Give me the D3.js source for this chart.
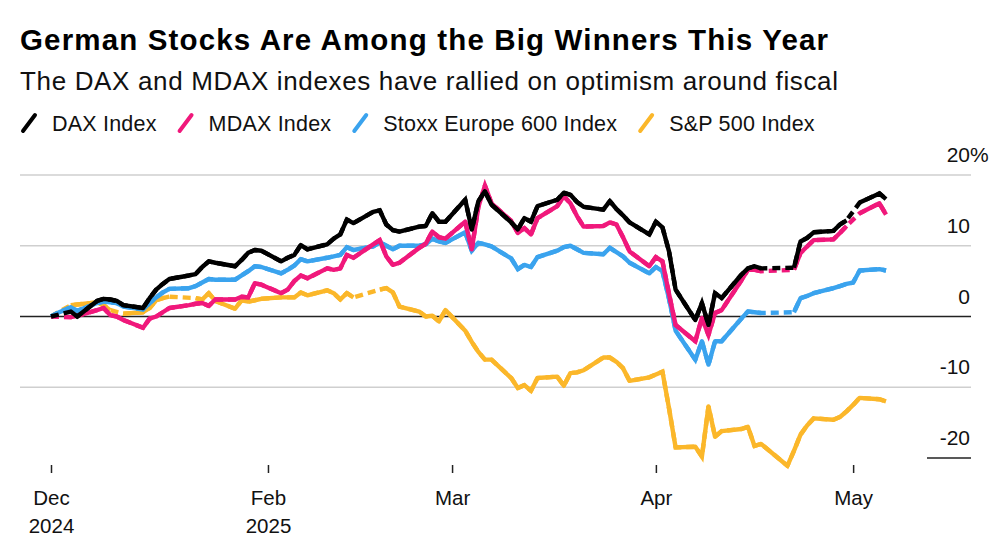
<!DOCTYPE html>
<html>
<head>
<meta charset="utf-8">
<script src="https://cdn.jsdelivr.net/npm/d3@7"></script>
<style>
  html, body { margin: 0; padding: 0; background: #fff; }
  svg { display: block; font-family: "Liberation Sans", Arial, Helvetica, sans-serif; }
</style>
</head>
<body>
<svg id="chart" width="1000" height="545"></svg>
<script>
// ── DATA ─────────────────────────────────────────────────────
// Trading calendar: weekdays from Dec 30 2024 to May 6 2025,
// minus days on which none of the four markets traded.
const closedAll = ['2025-01-01', '2025-04-18'];
const fmtDay = d3.timeFormat('%Y-%m-%d');
const dates = d3.timeDay.range(new Date(2024, 11, 30), new Date(2025, 4, 7))
  .filter(d => d.getDay() !== 0 && d.getDay() !== 6 && !closedAll.includes(fmtDay(d)));

// % change since Dec 30 2024 (null = that market was closed)
const daxPct = [
  0, null,                                                   // Dec 30-31
  0.7, 0.0, 2.2, 2.5, 2.4, 2.2, 1.6, 1.2, 2.6, 3.8, 4.6, 5.3,
  5.8, 6.0, 7.0, 7.8, 7.6, 7.1, 8.0, 9.0, 9.4, 9.3,          // Jan
  7.8, 8.3, 8.7, 10.1, 9.5, 10.2, 11.0, 11.6, 13.7, 13.2,
  14.8, 15.0, 13.0, 12.2, 12.0, 12.7, 12.8, 14.6, 13.4, 13.4, // Feb
  16.5, 12.3, 16.3, 17.7, 15.8, 13.3, 12.3, 13.9, 13.4, 15.6,
  16.5, 17.5, 17.2, 16.2, 15.5, 15.1, 16.3, 15.2, 14.3, 13.3, 11.6, // Mar
  13.4, 12.6, 9.2, 3.8, -0.5, 1.9, -1.2, 3.3, 2.6, 5.9, 6.8,
  7.1, 6.8, null, 6.9, 10.6, 11.1, 11.9, 12.1, 13.0, 13.6,    // Apr
  null, 16.1, 17.4, 16.6                                      // May
];
const mdaxPct = [
  0, null,
  -0.1, 0.1, 0.9, 1.2, 0.2, 0.0, -0.5, -1.6, -0.3, 0.0, 0.6, 1.2,
  1.6, 1.8, 1.9, 1.5, 2.4, 2.4, 2.8, 2.7, 4.7, 4.5,
  3.3, 3.8, 5.0, 5.8, 5.4, 6.8, 6.6, 6.8, 8.7, 8.3,
  10.2, 10.8, 8.5, 7.3, 7.6, 9.7, 10.3, 12.0, 11.2, 11.0,
  13.4, 9.5, 15.5, 18.5, 16.0, 13.5, 11.8, 12.5, 11.6, 13.9,
  15.6, 17.0, 16.0, 14.2, 12.7, 12.8, 13.3, 13.0, 11.2, 9.2, 7.1,
  8.4, 7.8, 3.2, -1.2, -3.5, -0.2, -2.6, 0.5, 0.9, 5.1, 6.6,
  6.6, 6.4, null, 6.6, 9.0, 9.9, 10.8, 10.9, 11.8, 12.8,
  null, 14.6, 16.0, 14.4
];
const stoxxPct = [
  0, 0.5,
  1.3, 0.8, 1.9, 2.1, 2.0, 1.9, 1.4, 1.0, 1.9, 2.7, 3.4, 3.9,
  4.0, 4.3, 4.8, 5.3, 5.2, 5.2, 5.8, 6.4, 7.1, 7.0,
  6.1, 6.6, 7.2, 8.1, 7.8, 8.3, 8.5, 8.7, 9.8, 9.4,
  9.9, 10.5, 10.0, 9.5, 10.0, 10.0, 10.2, 11.0, 10.6, 10.4,
  11.9, 9.3, 10.4, 10.2, 9.9, 8.2, 6.7, 7.3, 7.0, 8.4,
  9.3, 9.8, 10.0, 9.5, 9.0, 8.8, 9.7, 9.1, 8.5, 7.6, 6.1,
  7.0, 6.4, 2.5, -2.0, -6.1, -3.5, -6.8, -3.5, -3.5, -0.3, 0.7,
  0.6, 0.5, null, 0.6, 2.6, 2.9, 3.3, 4.0, 4.3, 4.6,
  4.8, 6.5, 6.7, 6.5
];
const spxPct = [
  0, null,
  1.6, 1.7, 2.0, 1.6, 0.9, null, 0.4, 0.6, 1.2, 2.3, 2.6, 2.8,
  null, 2.6, 2.4, 3.3, 2.2, 1.1, 2.3, 2.1, 2.3, 2.5,
  2.7, 2.7, 2.7, 3.4, 3.0, 3.7, 3.3, 2.4, 3.3, 2.7,
  null, 3.8, 4.0, 3.4, 1.4, 0.7, 0.0, 0.1, -0.7, 0.9,
  -2.0, -3.6, -5.0, -6.1, -6.1, -8.7, -10.1, -9.7, -10.5, -8.7,
  -8.5, -9.8, -8.0, -7.9, -7.6, -5.8, -5.8, -6.4, -7.3, -9.1, -8.6,
  -8.2, -7.8, -13.0, -18.5, -18.4, -19.8, -12.7, -17.0, -16.2, -15.9, -15.6,
  -18.3, -18.0, -21.1, -19.0, -16.7, -15.4, -14.4, -14.6, -14.2, -13.4,
  -12.5, -11.5, -11.7, -12.0
];

const seriesNames  = ['DAX Index', 'MDAX Index', 'Stoxx Europe 600 Index', 'S&P 500 Index'];
const seriesValues = [daxPct, mdaxPct, stoxxPct, spxPct];
const seriesColors = ['#000000', '#f0187b', '#3aa3ee', '#fbb72a'];

const yTicks  = [20, 10, 0, -10, -20];
const xTicks  = [new Date(2024, 11, 30), new Date(2025, 1, 1), new Date(2025, 2, 1),
                 new Date(2025, 3, 1), new Date(2025, 4, 1)];
const xMonths = ['Dec', 'Feb', 'Mar', 'Apr', 'May'];
const xYears  = ['2024', '2025', '', '', ''];

const TITLE    = 'German Stocks Are Among the Big Winners This Year';
const SUBTITLE = 'The DAX and MDAX indexes have rallied on optimism around fiscal';

// ── SETUP ────────────────────────────────────────────────────
const svg = d3.select('#chart');
svg.append('rect').attr('width', 1000).attr('height', 545).attr('fill', '#fff');

const LEFT = 20, RIGHT = 971;
const LINE_W = 4.4;
const x = d3.scaleTime().domain([dates[0], dates[dates.length - 1]]).range([51, 886]);
const y = d3.scaleLinear().domain([-20, 20]).range([458, 175]);

// ── HEADER ───────────────────────────────────────────────────
svg.append('text')
  .attr('x', LEFT).attr('y', 50)
  .attr('font-size', 29.5).attr('font-weight', 700).attr('fill', '#000')
  .attr('textLength', 808).attr('lengthAdjust', 'spacing')
  .text(TITLE);

svg.append('text')
  .attr('x', LEFT).attr('y', 90)
  .attr('font-size', 26).attr('fill', '#111')
  .attr('textLength', 818).attr('lengthAdjust', 'spacing')
  .text(SUBTITLE);

// legend: slanted swatch + label, flowed left to right
const legend = svg.append('g').attr('class', 'legend');
let lx = LEFT;
seriesNames.forEach((name, i) => {
  legend.append('line')
    .attr('x1', lx + 3).attr('y1', 131).attr('x2', lx + 15).attr('y2', 115)
    .attr('stroke', seriesColors[i]).attr('stroke-width', 4).attr('stroke-linecap', 'round');
  const t = legend.append('text')
    .attr('x', lx + 32).attr('y', 131)
    .attr('font-size', 21.5).attr('letter-spacing', 0.2).attr('fill', '#111')
    .text(name);
  lx = lx + 32 + t.node().getComputedTextLength() + 20;
});

// ── GRID + Y LABELS ──────────────────────────────────────────
const grid = svg.append('g').attr('class', 'grid');
yTicks.forEach(v => {
  const isZero = v === 0;
  const isBottom = v === d3.min(yTicks);
  grid.append('line')
    .attr('x1', isBottom ? 927 : LEFT).attr('x2', RIGHT)
    .attr('y1', y(v)).attr('y2', y(v))
    .attr('stroke', isZero || isBottom ? '#222' : '#cfcfcf')
    .attr('stroke-width', isZero || isBottom ? 1.6 : 1.5);
  grid.append('text')
    .attr('x', 970).attr('y', y(v) - 13)
    .attr('text-anchor', 'end').attr('font-size', 21).attr('fill', '#111')
    .text(v);
  if (v === d3.max(yTicks)) {
    grid.append('text')
      .attr('x', 970).attr('y', y(v) - 13)
      .attr('font-size', 21).attr('fill', '#111')
      .text('%');
  }
});

// ── X AXIS ───────────────────────────────────────────────────
const xAxis = svg.append('g')
  .attr('transform', 'translate(0,465)')
  .call(d3.axisBottom(x).tickValues(xTicks).tickSize(8).tickFormat((d, i) => xMonths[i]));
xAxis.select('.domain').remove();
xAxis.selectAll('.tick line').attr('stroke', '#222').attr('stroke-width', 1.5);
xAxis.selectAll('.tick text')
  .attr('y', 40).attr('dy', 0)
  .attr('font-size', 20.5).attr('fill', '#111')
  .attr('font-family', '"Liberation Sans", Arial, sans-serif')
  .each(function(d, i) {
    if (!xYears[i]) return;
    d3.select(this).append('tspan').attr('x', 0).attr('dy', 28).text(xYears[i]);
  });

// ── LINES ────────────────────────────────────────────────────
const lineSolid = d3.line()
  .defined(d => d.v != null)
  .x(d => x(d.date)).y(d => y(d.v));
const lineGap = d3.line().x(d => x(d.date)).y(d => y(d.v));

const plot = svg.append('g').attr('class', 'lines');
// draw back to front so DAX sits on top
d3.range(seriesNames.length).reverse().forEach(i => {
  const pts = dates.map((date, j) => ({ date, v: seriesValues[i][j] }));
  const g = plot.append('g');
  // dashed bridge across closed days
  g.append('path')
    .attr('d', lineGap(pts.filter(d => d.v != null)))
    .attr('fill', 'none').attr('stroke', seriesColors[i])
    .attr('stroke-width', LINE_W).attr('stroke-dasharray', '8,5');
  g.append('path')
    .attr('d', lineSolid(pts))
    .attr('fill', 'none').attr('stroke', seriesColors[i])
    .attr('stroke-width', LINE_W).attr('stroke-linejoin', 'round');
});
</script>
</body>
</html>
